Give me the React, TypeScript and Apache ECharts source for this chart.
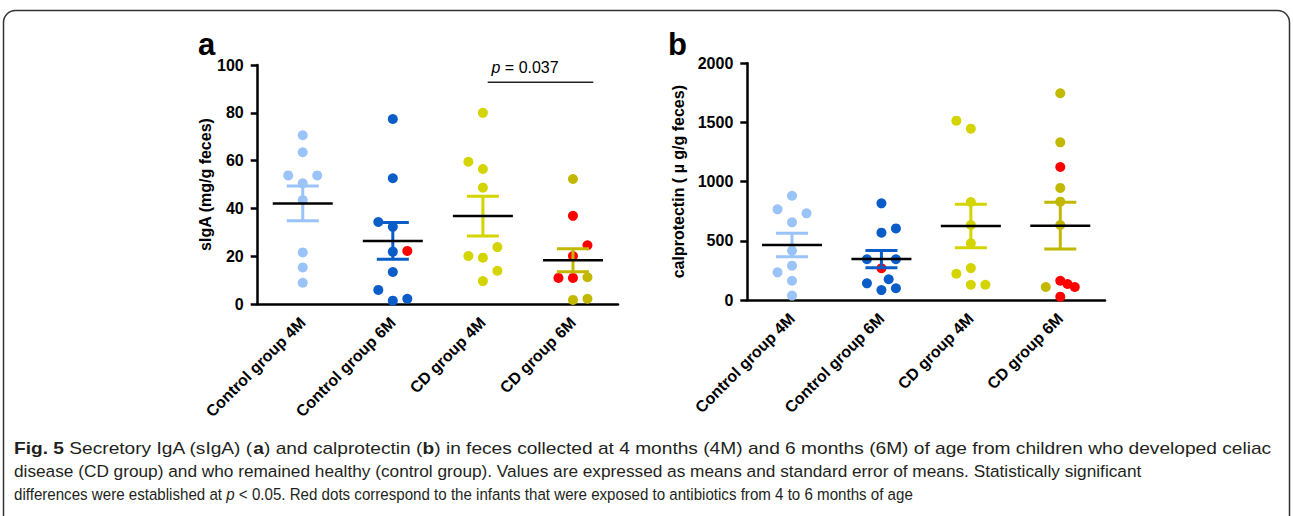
import React, { useEffect, useRef } from 'react';
import * as echarts from 'echarts';

const categories = ['Control group 4M', 'Control group 6M', 'CD group 4M', 'CD group 6M'];

// Panel a: sIgA (mg/g feces)
const sigaControl4M = [70.6, 63.5, 53.8, 53.8, 50.5, 43.5, 21.6, 15.3, 8.9];
const sigaControl6M = [77.4, 52.6, 34.3, 32.3, 21.9, 13.4, 5.9, 1.4, 2.2];
const sigaControl6MAntibiotic = [22.2];
const sigaCD4M = [80.0, 59.5, 56.5, 48.7, 23.8, 20.1, 19.4, 13.9, 9.6];
const sigaCD6M = [52.3, 11.2, 1.7, 2.2];
const sigaCD6MAntibiotic = [36.9, 24.6, 20.1, 10.9, 10.9];
const sigaMean = [42.1, 26.4, 36.8, 18.3];
const sigaSem = [7.3, 7.7, 8.3, 4.8];
const sigaTicks = [0, 20, 40, 60, 80, 100];

// Panel b: calprotectin (µg/g feces)
const calControl4M = [881, 766, 732, 656, 417, 290, 234, 163, 37];
const calControl6M = [817, 605, 569, 344, 344, 175, 141, 99, 84];
const calControl6MAntibiotic = [268];
const calCD4M = [1515, 1448, 828, 634, 479, 270, 222, 129, 129];
const calCD6M = [1747, 1332, 947, 831, 634, 110];
const calCD6MAntibiotic = [1124, 163, 135, 110, 28];
const calMean = [465, 346, 625, 628];
const calSem = [99, 73, 183, 197];
const calTicks = [0, 500, 1000, 1500, 2000];

// horizontal scatter spreading (layout only, in dot-width slots)
const jitSigaControl4M = [0, 0, -1, 1, 0, 0, 0, 0, 0];
const jitSigaControl6M = [0, 0, -1, 0, 0, 0, -1, 0, 1];
const jitSigaControl6MAntibiotic = [1];
const jitSigaCD4M = [0, -1, 0, 0, 1, -1, 0, 1, 0];
const jitSigaCD6M = [0, 1, 0, 1];
const jitSigaCD6MAntibiotic = [0, 1, 0, -1, 0];
const jitCalControl4M = [0, -1, 1, 0, 0, 0, -1, 0, 0];
const jitCalControl6M = [0, 1, 0, -1, 1, 0.5, -1, 1, 0];
const jitCalControl6MAntibiotic = [0];
const jitCalCD4M = [-1, 0, 0, 0, 0, 0, -1, 0, 1];
const jitCalCD6M = [0, 0, 0, 0, 0, -1];
const jitCalCD6MAntibiotic = [0, 0, 0.5, 1, 0];

const groupColors = ['#9ac4f8', '#0a5cc8', '#d4d400', '#c2b800'];
const antibioticColor = '#ff0000';
const JIT = 14.5;
const FONT = '"Liberation Sans", Arial, Helvetica, sans-serif';

function dots(cat: number, values: number[], jitter: number[], color: string) {
  return values.map((v, i) => ({
    value: [cat, v],
    symbolOffset: [jitter[i] * JIT, 0],
    itemStyle: { color, opacity: 1 },
  }));
}

function meanSemSeries(axis: number, means: number[], sems: number[]) {
  return {
    type: 'custom',
    xAxisIndex: axis,
    yAxisIndex: axis,
    z: 5,
    silent: true,
    data: means.map((m, i) => [i, m, sems[i]]),
    renderItem: (params: any, api: any) => {
      const i = api.value(0);
      const m = api.value(1);
      const s = api.value(2);
      const c = api.coord([i, m]);
      const t = api.coord([i, m + s]);
      const b = api.coord([i, m - s]);
      const col = groupColors[params.dataIndex];
      return {
        type: 'group',
        children: [
          { type: 'line', shape: { x1: c[0], y1: t[1], x2: c[0], y2: b[1] }, style: { stroke: col, lineWidth: 3 } },
          { type: 'line', shape: { x1: c[0] - 16, y1: t[1], x2: c[0] + 16, y2: t[1] }, style: { stroke: col, lineWidth: 3 } },
          { type: 'line', shape: { x1: c[0] - 16, y1: b[1], x2: c[0] + 16, y2: b[1] }, style: { stroke: col, lineWidth: 3 } },
          { type: 'line', shape: { x1: c[0] - 30, y1: c[1], x2: c[0] + 30, y2: c[1] }, style: { stroke: '#000', lineWidth: 2.5 } },
        ],
      };
    },
  };
}

function xAxisCfg(gridIndex: number) {
  return {
    type: 'category',
    gridIndex,
    data: categories,
    boundaryGap: true,
    axisLine: { lineStyle: { color: '#000', width: 2.5 } },
    axisTick: { alignWithLabel: true, length: 7, lineStyle: { color: '#000', width: 2.5 } },
    axisLabel: {
      interval: 0,
      rotate: 45,
      margin: 16,
      color: '#000',
      fontWeight: 'bold',
      fontSize: 16,
      fontFamily: FONT,
    },
    splitLine: { show: false },
  };
}

function yAxisCfg(gridIndex: number, ticks: number[], name: string, nameGap: number) {
  return {
    type: 'value',
    gridIndex,
    min: ticks[0],
    max: ticks[ticks.length - 1],
    interval: ticks[1] - ticks[0],
    name,
    nameLocation: 'middle',
    nameGap,
    nameRotate: 90,
    nameTextStyle: { color: '#000', fontWeight: 'bold', fontSize: 16, fontFamily: FONT },
    axisLine: { show: true, lineStyle: { color: '#000', width: 2.5 } },
    axisTick: { show: true, length: 7, lineStyle: { color: '#000', width: 2.5 } },
    axisLabel: {
      margin: 14,
      color: '#000',
      fontWeight: 'bold',
      fontSize: 16,
      fontFamily: FONT,
      formatter: (v: number) => String(v),
    },
    splitLine: { show: false },
  };
}

type Seg = { t: string; w?: string; s?: string };
const captionLines: Seg[][] = [
  [
    { t: 'Fig. 5', w: 'bold' },
    { t: ' Secretory IgA (sIgA) (' },
    { t: 'a', w: 'bold' },
    { t: ') and calprotectin (' },
    { t: 'b', w: 'bold' },
    { t: ') in feces collected at 4 months (4M) and 6 months (6M) of age from children who developed celiac' },
  ],
  [
    { t: 'disease (CD group) and who remained healthy (control group). Values are expressed as means and standard error of means. Statistically significant' },
  ],
  [
    { t: 'differences were established at ' },
    { t: 'p', s: 'italic' },
    { t: ' < 0.05. Red dots correspond to the infants that were exposed to antibiotics from 4 to 6 months of age' },
  ],
];
const captionRight = [1272, 1143, 913];
const captionBaseline = [454, 477, 500];
const CAP_SIZE = 17;

function captionGraphics() {
  const canvas = document.createElement('canvas');
  const ctx = canvas.getContext('2d') as CanvasRenderingContext2D;
  const left = 14;
  return captionLines.map((segs, li) => {
    let width = 0;
    let text = '';
    segs.forEach((sg, k) => {
      ctx.font = `${sg.s || 'normal'} ${sg.w || 'normal'} ${CAP_SIZE}px ${FONT}`;
      width += ctx.measureText(sg.t).width;
      text += `{s${k}|${sg.t}}`;
    });
    const rich: any = {};
    segs.forEach((sg, k) => {
      rich['s' + k] = {
        fontSize: CAP_SIZE,
        fontFamily: FONT,
        fontWeight: sg.w || 'normal',
        fontStyle: sg.s || 'normal',
        fill: '#231f20',
        color: '#231f20',
      };
    });
    const scale = (captionRight[li] - left) / width;
    return {
      type: 'text',
      x: left,
      y: captionBaseline[li] - 0.3465 * CAP_SIZE,
      scaleX: scale,
      style: {
        text,
        rich,
        fontSize: CAP_SIZE,
        fontFamily: FONT,
        fill: '#231f20',
        textAlign: 'left',
        textVerticalAlign: 'middle',
      },
    };
  });
}

export default function App() {
  const ref = useRef<HTMLDivElement>(null);
  useEffect(() => {
    if (!ref.current) return;
    const chart = echarts.init(ref.current, undefined, { renderer: 'svg' });
    const option: any = {
      animation: false,
      backgroundColor: '#fff',
      grid: [
        { left: 257.7, top: 65, width: 360.3, height: 239 },
        { left: 747.3, top: 63.3, width: 357.7, height: 236.7 },
      ],
      xAxis: [xAxisCfg(0), xAxisCfg(1)],
      yAxis: [
        yAxisCfg(0, sigaTicks, 'sIgA (mg/g feces)', 42),
        yAxisCfg(1, calTicks, 'calprotectin ( \u00b5 g/g feces)', 61),
      ],
      series: [
        {
          type: 'scatter',
          name: 'sIgA',
          xAxisIndex: 0,
          yAxisIndex: 0,
          symbol: 'circle',
          symbolSize: 10,
          silent: true,
          itemStyle: { opacity: 1 },
          data: [
            ...dots(0, sigaControl4M, jitSigaControl4M, groupColors[0]),
            ...dots(1, sigaControl6M, jitSigaControl6M, groupColors[1]),
            ...dots(1, sigaControl6MAntibiotic, jitSigaControl6MAntibiotic, antibioticColor),
            ...dots(2, sigaCD4M, jitSigaCD4M, groupColors[2]),
            ...dots(3, sigaCD6M, jitSigaCD6M, groupColors[3]),
            ...dots(3, sigaCD6MAntibiotic, jitSigaCD6MAntibiotic, antibioticColor),
          ],
        },
        {
          type: 'scatter',
          name: 'calprotectin',
          xAxisIndex: 1,
          yAxisIndex: 1,
          symbol: 'circle',
          symbolSize: 10,
          silent: true,
          itemStyle: { opacity: 1 },
          data: [
            ...dots(0, calControl4M, jitCalControl4M, groupColors[0]),
            ...dots(1, calControl6M, jitCalControl6M, groupColors[1]),
            ...dots(1, calControl6MAntibiotic, jitCalControl6MAntibiotic, antibioticColor),
            ...dots(2, calCD4M, jitCalCD4M, groupColors[2]),
            ...dots(3, calCD6M, jitCalCD6M, groupColors[3]),
            ...dots(3, calCD6MAntibiotic, jitCalCD6MAntibiotic, antibioticColor),
          ],
        },
        meanSemSeries(0, sigaMean, sigaSem),
        meanSemSeries(1, calMean, calSem),
      ],
      graphic: [
        {
          type: 'rect',
          shape: { x: 3.5, y: 10.5, width: 1286, height: 540, r: 12 },
          style: { fill: 'none', stroke: '#333', lineWidth: 1.5 },
          silent: true,
        },
        {
          type: 'text',
          x: 198,
          y: 44.3,
          style: { text: 'a', fontSize: 31, fontWeight: 'bold', fontFamily: FONT, fill: '#000', textVerticalAlign: 'middle' },
        },
        {
          type: 'text',
          x: 668,
          y: 44.3,
          style: { text: 'b', fontSize: 31, fontWeight: 'bold', fontFamily: FONT, fill: '#000', textVerticalAlign: 'middle' },
        },
        {
          type: 'text',
          x: 491.5,
          y: 67.8,
          style: {
            text: '{i|p}{n| = 0.037}',
            rich: {
              i: { fontSize: 16, fontStyle: 'italic', fontFamily: FONT, fill: '#000', color: '#000' },
              n: { fontSize: 16, fontFamily: FONT, fill: '#000', color: '#000' },
            },
            fontSize: 16,
            fontFamily: FONT,
            fill: '#000',
            textVerticalAlign: 'middle',
          },
        },
        {
          type: 'line',
          shape: { x1: 487.7, y1: 82.3, x2: 593.3, y2: 82.3 },
          style: { stroke: '#222', lineWidth: 1.5 },
        },
        ...captionGraphics(),
      ],
    };
    chart.setOption(option);
    return () => chart.dispose();
  }, []);
  return <div ref={ref} style={{ position: 'fixed', left: 0, top: 0, width: 1293, height: 516 }} />;
}
